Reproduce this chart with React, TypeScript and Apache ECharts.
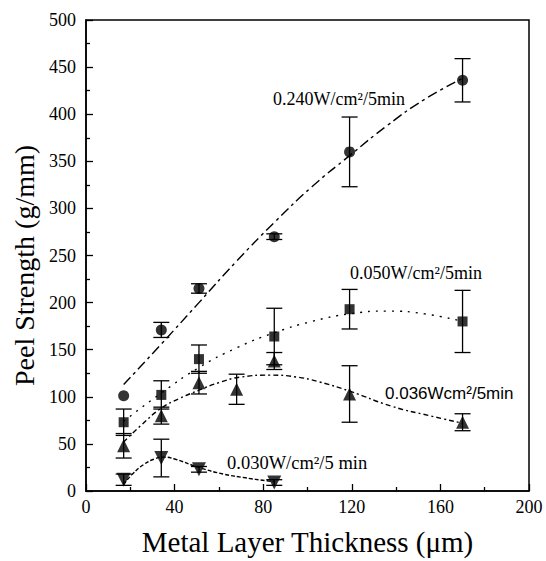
import React, { useEffect, useRef } from "react";
import * as echarts from "echarts";

// Measured points (x = metal layer thickness in µm, y = peel strength in g/mm)
const xs240 = [17, 34, 51, 85, 119, 170];
const v240 = [101, 171, 215, 270, 360, 436];
const e240 = [0, 8, 5, 3, 37, 23];

const xs050 = [17, 34, 51, 85, 119, 170];
const v050 = [73, 102, 140, 164, 193, 180];
const e050 = [14, 15, 15, 30, 21, 33];

const xs036 = [17, 34, 51, 68, 85, 119, 170];
const v036 = [48, 80, 115, 108, 138, 103, 73];
const e036 = [13, 9, 12, 16, 9, 30, 9];

const xs030 = [17, 34, 51, 85];
const v030 = [12, 35, 23, 9];
const e030 = [6, 20, 3, 3];

// Fitted curves
const fit240X = [17, 34, 51, 68, 85, 102, 119, 136, 153, 170];
const fit240Y = [113, 156, 200, 244, 285, 323, 356, 388, 416, 438];
const fit050X = [17, 34, 51, 68, 85, 102, 119, 136, 153, 170];
const fit050Y = [74, 104, 131, 152, 168, 180, 188, 191, 188, 180];
const fit036X = [17, 25, 34, 42, 51, 60, 70, 83, 95, 105, 119, 138, 155, 170];
const fit036Y = [52, 70, 88, 98, 107, 115, 121, 123, 121, 116, 106, 90, 80, 72];
const fit030X = [17, 21, 26, 31, 35, 40, 51, 62, 72, 81, 85];
const fit030Y = [7, 18, 28, 34, 36, 34, 25, 18, 14, 11, 10];

const xTicks = [0, 40, 80, 120, 160, 200];
const yTicks = [0, 50, 100, 150, 200, 250, 300, 350, 400, 450, 500];

const labels = [
  { text: "0.240W/cm²/5min", x: 273, y: 99, size: 18, font: "serif" },
  { text: "0.050W/cm²/5min", x: 350, y: 273, size: 18, font: "serif" },
  { text: "0.036Wcm²/5min", x: 385, y: 393, size: 17, font: "sans" },
  { text: "0.030W/cm²/5 min", x: 227, y: 463, size: 18.5, font: "serif" },
];

const SERIF = "'Liberation Serif', 'Times New Roman', serif";
const SANS = "'Liberation Sans', Arial, sans-serif";

const zip = (a: number[], b: number[]) => a.map((x, i) => [x, b[i]]);
const errData = (xs: number[], v: number[], e: number[]) =>
  xs.map((x, i) => [x, v[i], e[i]]).filter((d) => d[2] > 0);

const errSeries = (data: number[][]) => ({
  type: "custom",
  data,
  encode: { x: 0, y: 1 },
  z: 3,
  silent: true,
  renderItem: (params: any, api: any) => {
    const x = api.value(0);
    const y = api.value(1);
    const e = api.value(2);
    const top = api.coord([x, y + e]);
    const bot = api.coord([x, y - e]);
    const w = 8;
    const st = { stroke: "#000", lineWidth: 1.3 };
    return {
      type: "group",
      children: [
        { type: "line", shape: { x1: top[0], y1: top[1], x2: bot[0], y2: bot[1] }, style: st },
        { type: "line", shape: { x1: top[0] - w, y1: top[1], x2: top[0] + w, y2: top[1] }, style: st },
        { type: "line", shape: { x1: bot[0] - w, y1: bot[1], x2: bot[0] + w, y2: bot[1] }, style: st },
      ],
    };
  },
});

const fitSeries = (xs: number[], ys: number[], dash: number[]) => ({
  type: "line",
  data: zip(xs, ys),
  smooth: true,
  showSymbol: false,
  symbol: "none",
  silent: true,
  z: 2,
  lineStyle: { color: "#000", width: 1.4, type: dash },
});

const pointSeries = (name: string, xs: number[], v: number[], symbol: string, size: number, rotate = 0) => ({
  name,
  type: "scatter",
  data: zip(xs, v),
  symbol,
  symbolSize: size,
  symbolRotate: rotate,
  z: 5,
  itemStyle: { color: "#000" },
});

export default function App() {
  const ref = useRef<HTMLDivElement>(null);
  useEffect(() => {
    document.body.style.margin = "0";
    if (!ref.current) return;
    const chart = echarts.init(ref.current, null, { renderer: "svg" });
    chart.setOption({
      animation: false,
      backgroundColor: "#fff",
      grid: {
        left: 86,
        right: 17,
        top: 20,
        bottom: 69,
        show: true,
        borderColor: "#000",
        borderWidth: 1.5,
      },
      xAxis: {
        type: "value",
        min: xTicks[0],
        max: xTicks[xTicks.length - 1],
        interval: xTicks[1] - xTicks[0],
        name: "Metal Layer Thickness (μm)",
        nameLocation: "middle",
        nameGap: 36,
        nameTextStyle: { fontFamily: SERIF, fontSize: 29, color: "#000" },
        axisLine: { lineStyle: { color: "#000", width: 1.5 } },
        axisTick: { inside: true, length: 7, lineStyle: { color: "#000", width: 1.3 } },
        minorTick: { show: true, splitNumber: 2, length: 4, lineStyle: { color: "#000", width: 1.3 } },
        splitLine: { show: false },
        axisLabel: { fontFamily: SERIF, fontSize: 18, color: "#000", margin: 7 },
      },
      yAxis: {
        type: "value",
        min: yTicks[0],
        max: yTicks[yTicks.length - 1],
        interval: yTicks[1] - yTicks[0],
        name: "Peel Strength (g/mm)",
        nameLocation: "middle",
        nameGap: 40,
        nameTextStyle: { fontFamily: SERIF, fontSize: 28, color: "#000", padding: [0, 20, 0, 0] },
        axisLine: { lineStyle: { color: "#000", width: 1.5 } },
        axisTick: { inside: true, length: 7, lineStyle: { color: "#000", width: 1.3 } },
        minorTick: { show: true, splitNumber: 2, length: 4, lineStyle: { color: "#000", width: 1.3 } },
        splitLine: { show: false },
        axisLabel: { fontFamily: SERIF, fontSize: 18, color: "#000", margin: 10 },
      },
      graphic: labels.map((l) => ({
        type: "text",
        x: l.x,
        y: l.y,
        z: 10,
        style: {
          text: l.text,
          fill: "#000",
          font: `${l.size}px ${l.font === "sans" ? SANS : SERIF}`,
          textAlign: "left",
          textVerticalAlign: "middle",
        },
      })),
      series: [
        fitSeries(fit240X, fit240Y, [10, 4, 3, 4]),
        fitSeries(fit050X, fit050Y, [2, 6]),
        fitSeries(fit036X, fit036Y, [5, 3, 2, 3]),
        fitSeries(fit030X, fit030Y, [4, 2]),
        errSeries(errData(xs240, v240, e240)),
        errSeries(errData(xs050, v050, e050)),
        errSeries(errData(xs036, v036, e036)),
        errSeries(errData(xs030, v030, e030)),
        pointSeries("0.240W/cm²/5min", xs240, v240, "circle", 11),
        pointSeries("0.050W/cm²/5min", xs050, v050, "rect", 10),
        pointSeries("0.036Wcm²/5min", xs036, v036, "triangle", 13),
        pointSeries("0.030W/cm²/5 min", xs030, v030, "triangle", 14, 180),
      ],
    });
    return () => chart.dispose();
  }, []);
  return <div ref={ref} style={{ width: 546, height: 561 }} />;
}
